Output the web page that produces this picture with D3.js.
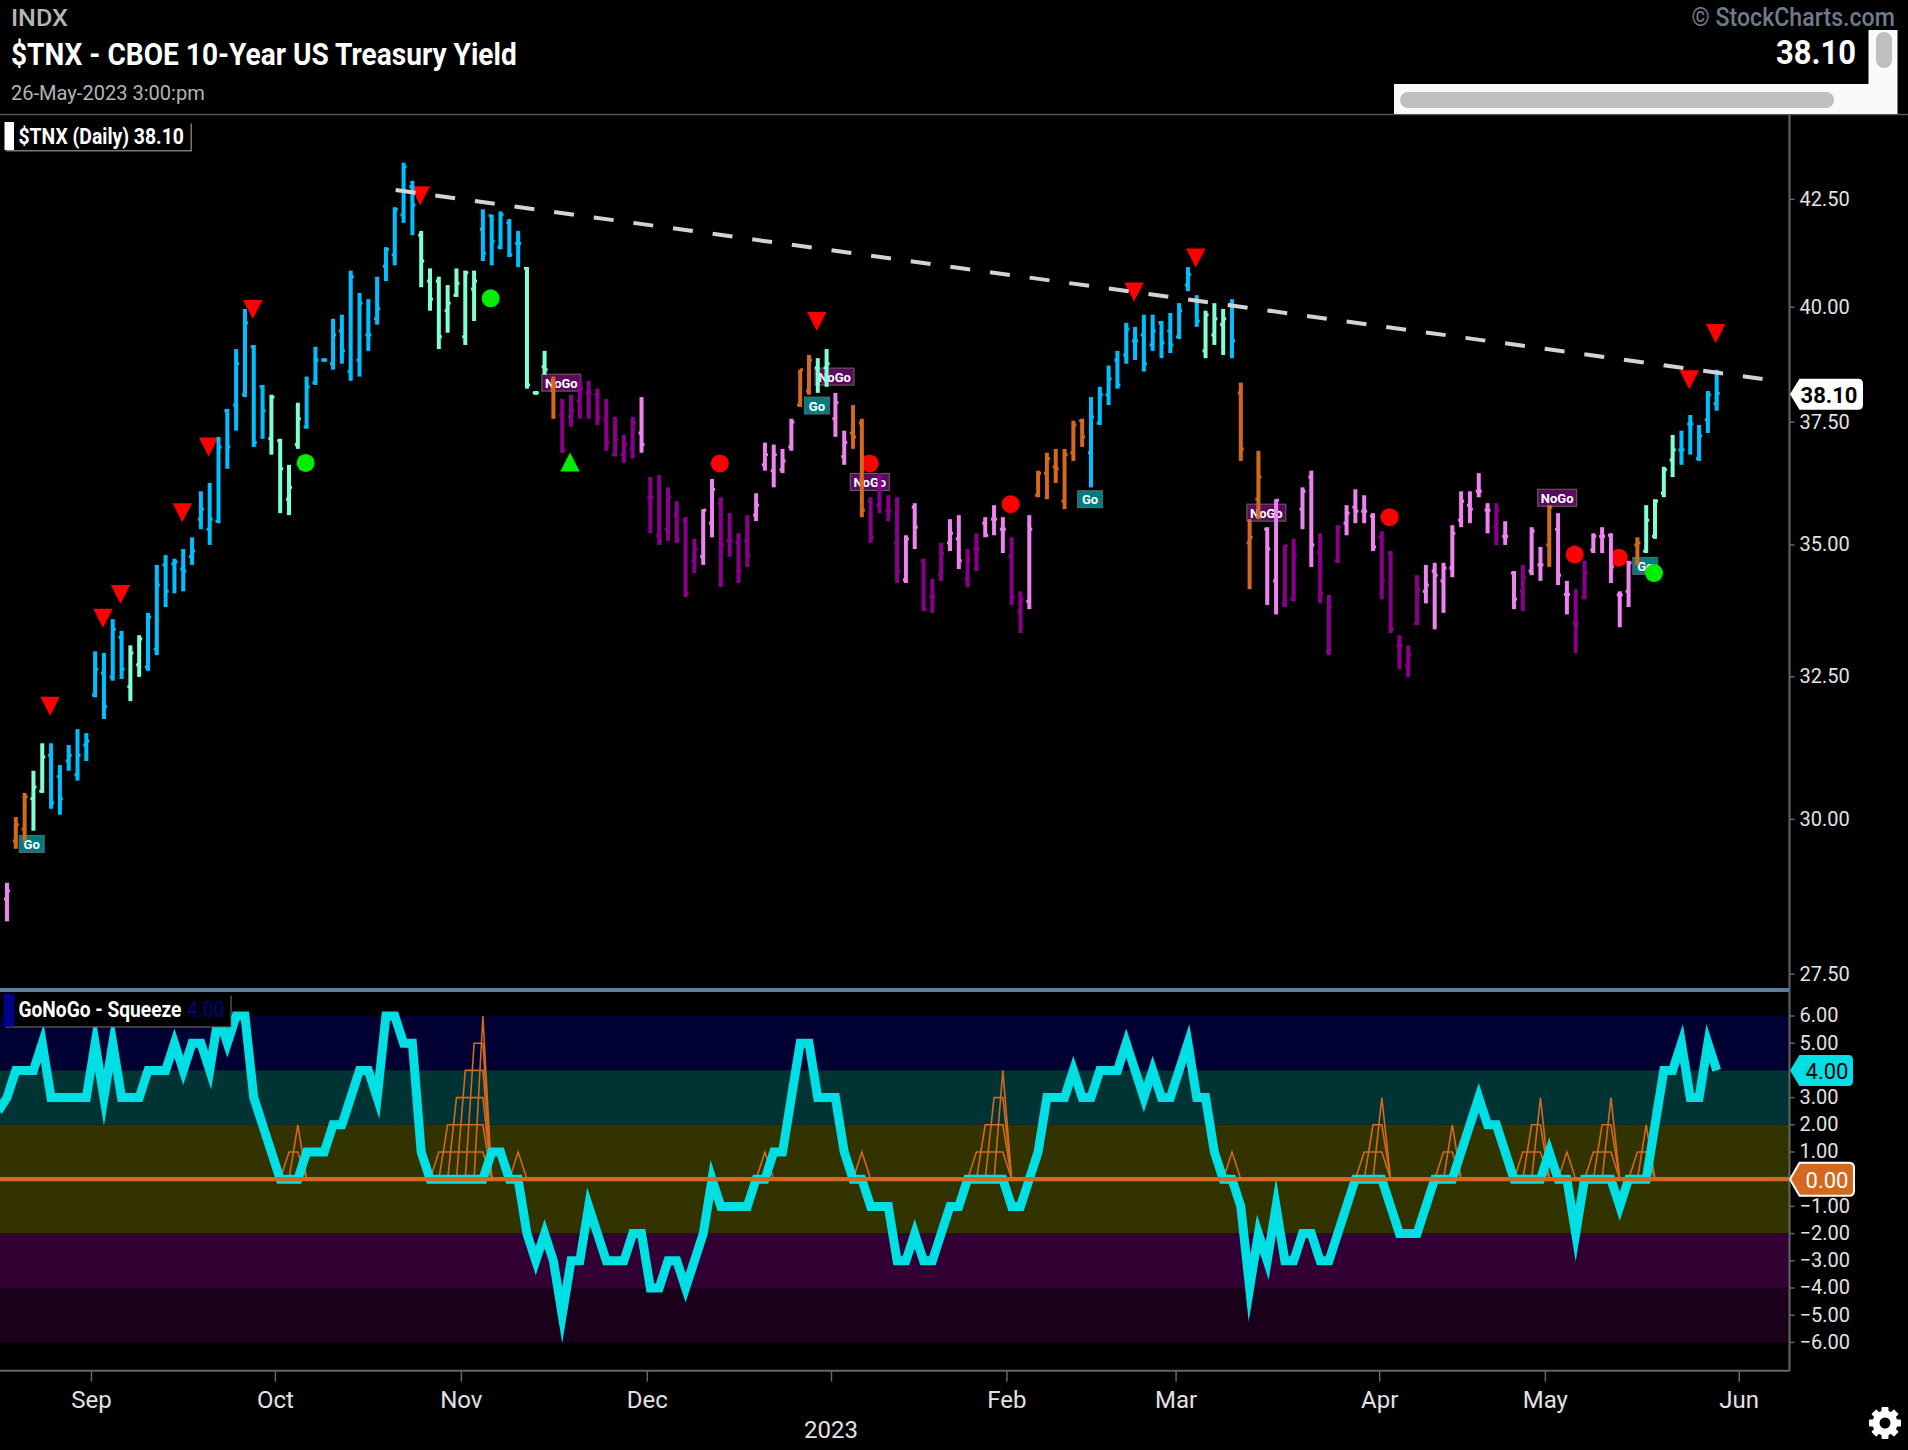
<!DOCTYPE html>
<html><head><meta charset="utf-8">
<script src="https://cdn.jsdelivr.net/npm/d3@7"></script>
<style>html,body{margin:0;padding:0;background:#000}svg{display:block}text{font-family:Roboto,sans-serif}</style>
</head><body><svg id="c" width="1908" height="1450"></svg>
<script>
const highs=[28.94,30.03,30.44,30.82,31.30,31.30,30.92,31.27,31.55,31.48,
32.96,32.93,33.56,33.34,33.07,33.26,33.68,34.60,34.79,34.72,
34.91,35.14,36.06,36.23,37.18,37.77,39.06,39.95,39.15,38.28,
38.07,37.14,36.60,37.90,38.46,39.11,38.86,39.73,39.82,40.82,
40.31,40.17,40.68,41.36,42.30,43.37,42.93,41.74,40.87,40.68,
40.49,40.87,40.82,40.82,42.25,42.12,42.20,42.02,41.74,40.90,
38.15,39.02,38.46,37.98,38.07,38.37,38.37,38.20,37.98,37.60,
37.22,37.60,38.02,36.35,36.39,36.14,35.86,35.54,35.11,35.70,
36.31,35.94,35.62,35.22,35.58,36.02,37.06,37.02,36.93,37.56,
38.61,38.93,38.86,39.06,38.11,37.31,37.85,37.56,35.94,36.43,
35.98,35.94,35.18,35.82,34.72,34.33,35.03,35.50,35.58,34.91,
35.22,35.54,35.78,35.54,35.14,34.09,35.58,36.48,36.85,36.93,
36.93,37.52,37.56,38.02,38.24,38.70,39.02,39.64,39.55,39.82,
39.82,39.68,39.86,40.08,40.90,40.26,39.91,40.08,39.95,40.17,
38.33,35.50,36.89,35.34,35.90,34.99,35.11,36.14,36.48,35.22,
34.02,35.38,35.78,36.10,35.98,35.62,35.26,34.87,33.26,33.07,
34.40,34.60,34.64,34.64,35.38,36.06,36.06,36.43,35.82,35.82,
35.46,34.48,34.60,35.34,34.95,35.78,35.62,34.29,34.13,34.68,
35.22,35.34,35.22,34.09,34.68,35.14,35.78,35.90,36.56,37.22,
37.31,37.64,37.43,38.15,38.61];
const lows=[28.32,29.50,29.63,29.80,30.44,30.17,30.07,30.82,30.65,30.99,
32.12,31.73,32.42,32.45,32.05,32.49,32.60,32.89,33.79,34.05,
34.09,34.60,35.30,34.99,35.42,36.52,37.31,38.02,36.97,37.14,
36.81,35.62,35.58,36.93,37.35,38.28,38.78,38.61,38.74,38.37,
38.46,39.02,39.60,40.58,40.94,41.93,41.64,40.44,39.91,39.06,
39.42,40.22,39.15,39.68,41.04,40.94,41.31,41.13,40.90,38.20,
38.07,38.50,37.56,36.85,37.39,37.56,37.56,37.43,36.89,36.77,
36.64,36.73,36.85,35.22,34.99,35.07,35.03,33.98,34.44,34.60,
35.14,34.17,34.76,34.25,34.56,35.46,36.48,36.14,36.43,36.89,
37.81,38.07,38.11,38.24,37.18,36.60,36.93,35.54,35.03,35.62,
35.46,34.25,34.25,34.91,33.71,33.68,34.29,34.87,34.52,34.17,
34.48,35.14,35.18,34.83,33.83,33.30,33.75,35.94,35.90,36.23,
35.70,36.68,36.97,36.14,37.43,37.85,38.20,38.74,38.82,38.57,
39.02,38.86,38.97,39.28,40.35,39.55,38.86,39.15,38.93,38.86,
36.68,34.13,35.50,33.83,33.65,33.79,33.90,35.30,34.56,33.86,
32.89,34.64,35.18,35.42,35.42,34.87,33.94,33.30,32.63,32.49,
33.45,33.86,33.37,33.68,34.36,35.34,35.42,35.94,35.22,34.99,
34.99,33.75,33.71,34.40,34.29,34.56,34.21,33.65,32.93,33.94,
34.83,34.83,34.25,33.41,33.79,34.60,34.83,35.11,35.94,36.35,
36.60,36.81,36.68,37.26,37.73];
const opens=[28.68,29.63,29.83,30.34,30.47,31.09,30.72,30.99,30.75,31.27,
32.16,32.56,32.49,33.22,32.31,32.71,32.67,33.00,34.60,34.62,
34.52,34.76,35.50,35.30,35.46,37.73,37.85,38.07,39.11,38.24,
37.14,37.10,35.90,37.02,37.39,38.33,38.82,38.74,39.46,38.57,
38.82,39.37,39.73,40.92,41.18,42.12,42.79,41.64,40.58,40.58,
39.91,40.26,39.33,40.40,41.78,42.10,41.36,41.93,41.45,40.87,
38.11,38.67,38.17,37.64,37.60,37.94,38.11,38.07,37.56,36.81,
36.81,36.93,37.26,35.94,35.18,35.30,35.58,35.48,34.68,34.76,
35.42,35.82,35.07,35.03,35.07,35.58,36.60,36.48,36.50,36.97,
37.85,38.15,38.65,38.65,37.56,36.77,37.26,37.47,35.86,35.78,
35.68,35.03,34.31,35.74,34.68,33.98,34.40,35.03,35.11,34.33,
34.91,35.42,35.50,35.30,34.76,33.71,33.90,35.98,36.43,36.56,
35.86,36.85,37.52,36.85,37.47,38.07,38.82,38.93,39.24,39.37,
39.15,39.64,39.46,39.33,40.49,40.15,39.02,39.37,39.60,40.04,
38.11,35.03,35.90,35.30,34.29,33.86,33.94,35.70,36.35,34.83,
32.96,34.68,35.42,35.74,35.66,35.56,35.14,34.83,33.07,32.69,
33.48,34.09,34.48,34.29,34.54,35.48,35.78,36.06,35.68,35.34,
35.16,34.44,34.09,34.48,34.60,34.99,35.30,34.03,33.48,33.98,
34.89,35.16,35.18,34.02,34.09,34.99,34.87,35.16,36.02,36.70,
36.91,37.45,36.73,37.54,37.88];
const closes=[28.81,29.90,30.37,30.54,31.06,30.27,30.34,31.09,31.09,31.34,
32.63,31.95,33.37,32.63,32.93,33.19,33.60,34.21,34.09,34.66,
34.48,34.87,35.70,35.50,36.97,36.97,38.74,39.64,37.06,37.73,
38.02,36.52,36.14,37.56,38.24,38.82,38.82,39.37,39.02,40.68,
40.08,39.37,39.95,41.31,42.25,43.27,42.35,41.04,40.17,39.33,
40.08,40.53,40.77,40.58,41.22,41.50,42.12,41.18,41.45,38.28,
38.11,38.61,38.28,36.89,37.73,38.20,38.11,37.60,37.06,37.14,
37.02,37.47,37.02,35.94,35.07,35.94,35.09,34.05,34.91,35.68,
36.10,34.99,35.07,34.48,34.79,35.78,36.81,36.81,36.68,37.49,
38.61,38.82,38.46,38.74,37.90,37.06,37.18,35.68,35.14,36.23,
35.66,34.48,35.11,35.34,33.75,33.98,34.83,35.22,34.68,34.70,
34.91,35.18,35.50,35.30,33.98,33.94,35.30,36.43,36.73,36.52,
36.81,37.43,37.18,37.60,38.07,38.41,38.28,39.50,39.24,38.74,
39.46,39.20,39.15,39.91,40.73,39.68,39.82,39.73,39.73,39.24,
36.93,35.14,36.35,34.91,35.88,34.97,34.79,36.06,34.99,34.05,
33.79,35.34,35.62,35.66,35.66,34.95,34.29,33.37,33.07,32.89,
34.13,34.21,34.40,34.54,35.22,35.86,35.70,36.06,35.68,35.68,
35.16,33.94,34.36,35.26,34.60,35.74,34.40,34.03,33.48,34.44,
35.16,35.16,34.56,34.02,34.64,35.03,35.48,35.86,36.50,36.91,
36.91,37.45,37.20,38.07,38.10];
// one state per bar: b strong go, a weak go, p weak nogo, m strong nogo, o neutral
const barStates=("poo"+"aa"+"bbbbbbbbb"+"aa"+"bbbbbbbbbbbbbb"+"aaaa"+"bbbbbbbbbbbbb"+"aaaaaaa"+"bbbbb"+"aaa"+"o"+"mmmmmmmmm"+"p"+"mmmmmm"+"pp"+"mmmm"+"ppppp"+"oo"+"aa"+"pp"+"oo"+"mmmm"+"pp"+"mmm"+"pp"+"mm"+"ppp"+"mm"+"p"+"oooooo"+"bbbbbbbbbbbbb"+"aaa"+"b"+"ooo"+"pp"+"mm"+"pp"+"mmm"+"pppp"+"mmmmm"+"pppppppp"+"m"+"pp"+"m"+"pp"+"o"+"pp"+"mm"+"ppppp"+"o"+"aaaa"+"bbbbb").split("");
const stateColors={b:"#00bfff",a:"#7fffd4",p:"#ee82ee",m:"#8b008b",o:"#d2691e"};
const oscLead=2.5;
const oscValues=[3,4,4,4,5,3,3,3,3,3,
5,3,5,3,3,3,4,4,4,5,
4,5,5,4,6,5,6,6,3,2,
1,0,0,0,1,1,1,2,2,3,
4,4,3,6,6,5,5,1,0,0,
0,0,0,0,0,1,1,0,0,-2,
-3,-2,-3,-5,-3,-3,-1,-2,-3,-3,
-3,-2,-2,-4,-4,-3,-3,-4,-3,-2,
0,-1,-1,-1,-1,0,0,1,1,3,
5,5,3,3,3,1,0,0,-1,-1,
-1,-3,-3,-2,-3,-3,-2,-1,-1,0,
0,0,0,0,-1,-1,0,1,3,3,
3,4,3,3,4,4,4,5,4,3,
4,3,3,4,5,3,3,1,0,0,
-1,-4,-2,-3,-1,-3,-3,-2,-2,-3,
-3,-2,-1,0,0,0,0,-1,-2,-2,
-2,-1,0,0,0,1,2,3,2,2,
1,0,0,0,0,1,0,0,-2,0,
0,0,0,-1,0,0,0,2,4,4,
5,3,3,5,4];
const squeezeRuns=[[32,2],[49,6],[58,1],[86,1],[97,1],[110,4],[139,1],[154,3],[163,2],[172,3],[177,1],[180,3],[185,2]];
const priceTicks=[42.5,40,37.5,35,32.5,30,27.5];
const oscTicks=[6,5,3,2,1,-1,-2,-3,-4,-5,-6];
const monthPos=[9.53,30.4,51.5,72.6,93.5,113.4,132.6,155.7,174.5,196.5];
const monthLabels=["Sep","Oct","Nov","Dec","","Feb","Mar","Apr","May","Jun"];
const bands=[[6,4,"#000033"],[4,2,"#003333"],[2,-2,"#333300"],[-2,-4,"#330033"],[-4,-6,"#1a001a"]];
const trendIdx=[44.1,199.2], trendPrice=[42.71,38.41];
const sellTri=[[5,31.96],[11,33.58],[13,34.03],[20,35.63],[23,36.97],[28,39.94],[47,42.57],[92,39.67],[128,40.33],[135,41.11],[191,38.39],[194,39.40]];
const buyTri=[[64,36.66]];
const greenDots=[[34,36.64],[55,40.19],[187,34.44]];
const redDots=[[81,36.63],[98,36.63],[114,35.80],[157,35.54],[178,34.80],[183,34.74]];
const goFlags=[[2.8,29.58],[91.9,37.84],[122.9,35.90],[185.9,34.58]];
const noGoFlags=[[62.9,38.33],[93.9,38.46],[97.9,36.25],[142.9,35.63],[175.9,35.93]];

const W=1908,H=1450,axisX=1789.5;
const svg=d3.select("#c");
const x=d3.scaleLinear().domain([0,194]).range([7,1716.7]);
const y=d3.scaleLog().domain([42.5,27.5]).range([198.8,973.7]);
const yo=d3.scaleLinear().domain([6,-6]).range([1016,1342.4]);
const lbl="#e2e2e2";

// oscillator panel
svg.append("g").selectAll("rect").data(bands).join("rect")
 .attr("x",0).attr("width",axisX).attr("y",d=>yo(d[0])).attr("height",d=>yo(d[1])-yo(d[0])).attr("fill",d=>d[2]);
const sq=new Array(oscValues.length).fill(0);
squeezeRuns.forEach(([s,n])=>{for(let k=0;k<n;k++)sq[s+k]=k+1;});
const sqLine=d3.line().x((d,i)=>x(i)).y(d=>yo(d));
d3.range(1,7).forEach(k=>{
 svg.append("path").attr("d",sqLine(sq.map(v=>v>=k?k:0))).attr("fill","none").attr("stroke","#d2691e").attr("stroke-width",1.6);
});
const oscAll=[oscLead].concat(oscValues);
svg.append("path").attr("d",d3.line().x((d,i)=>x(i-1)).y(d=>yo(d))(oscAll))
 .attr("fill","none").attr("stroke","#00dfe3").attr("stroke-width",9).attr("stroke-linejoin","miter").attr("stroke-miterlimit",12);
svg.append("line").attr("x1",0).attr("x2",axisX).attr("y1",yo(0)).attr("y2",yo(0)).attr("stroke","#d2691e").attr("stroke-width",4.2);
svg.append("rect").attr("x",0).attr("y",988).attr("width",axisX).attr("height",4).attr("fill","#5b7d9e");

// flags and markers
function flags(data,txt,fill,w){
 const g=svg.append("g").selectAll("g").data(data).join("g").attr("transform",d=>`translate(${x(d[0])},${y(d[1])})`);
 g.append("rect").attr("x",-w/2).attr("y",-8.5).attr("width",w).attr("height",17).attr("fill",fill).attr("stroke","#666").attr("stroke-width",1);
 g.append("text").attr("text-anchor","middle").attr("y",5).attr("font-size",13).attr("font-weight",700).attr("fill","#fff").text(txt);
}
flags(goFlags,"Go","#007c80",25);
flags(noGoFlags,"NoGo","#5c0a5c",39);
const off=-1;
svg.append("g").selectAll("path").data(sellTri).join("path").attr("d","M-9.75,-9.5L9.75,-9.5L0,9.5Z").attr("fill","#ff0000").attr("transform",d=>`translate(${x(d[0])+off},${y(d[1])})`);
svg.append("g").selectAll("path").data(buyTri).join("path").attr("d","M-9.75,9.5L9.75,9.5L0,-9.5Z").attr("fill","#00ee00").attr("transform",d=>`translate(${x(d[0])+off},${y(d[1])})`);
svg.append("g").selectAll("circle").data(greenDots).join("circle").attr("r",9).attr("fill","#00ee00").attr("cx",d=>x(d[0])+off).attr("cy",d=>y(d[1]));
svg.append("g").selectAll("circle").data(redDots).join("circle").attr("r",9).attr("fill","#ff0000").attr("cx",d=>x(d[0])+off).attr("cy",d=>y(d[1]));

// OHLC bars
const bars=svg.append("g").selectAll("g").data(highs.map((h,i)=>i)).join("g").attr("fill",i=>stateColors[barStates[i]]);
bars.append("rect").attr("x",i=>x(i)-3).attr("width",3).attr("y",i=>y(opens[i])-1.5).attr("height",3);
bars.append("rect").attr("x",i=>x(i)).attr("width",3).attr("y",i=>y(closes[i])-1.5).attr("height",3);
bars.append("rect").attr("x",i=>x(i)-2).attr("width",4).attr("y",i=>y(highs[i])).attr("height",i=>Math.max(1,y(lows[i])-y(highs[i])));

// trendline
svg.append("line").attr("x1",x(trendIdx[0])).attr("y1",y(trendPrice[0])).attr("x2",x(trendIdx[1])).attr("y2",y(trendPrice[1]))
 .attr("stroke","#d3d3d3").attr("stroke-width",4).attr("stroke-dasharray","20 20");

// axes
function styleAxis(g){g.select(".domain").remove();g.selectAll("line").attr("stroke","#666").attr("stroke-width",1.5);g.selectAll("text").attr("fill",lbl).attr("font-size",20).attr("font-family","Roboto");}
svg.append("g").attr("transform",`translate(${axisX},0)`).call(d3.axisRight(y).tickValues(priceTicks).tickFormat(d3.format(".2f")).tickSize(5).tickPadding(5)).call(styleAxis);
svg.append("g").attr("transform",`translate(${axisX},-0.5)`).call(d3.axisRight(yo).tickValues(oscTicks).tickFormat(d3.format(".2f")).tickSize(5).tickPadding(5)).call(styleAxis);
svg.append("g").attr("transform","translate(0,1370.7)").call(d3.axisBottom(x).tickValues(monthPos).tickFormat((d,i)=>monthLabels[i]).tickSize(11).tickPadding(9)).call(styleAxis).selectAll("text").attr("font-size",24);
svg.append("line").attr("x1",axisX).attr("x2",axisX).attr("y1",115).attr("y2",1371).attr("stroke","#666").attr("stroke-width",2);
svg.append("line").attr("x1",0).attr("x2",axisX).attr("y1",1370.7).attr("y2",1370.7).attr("stroke","#666").attr("stroke-width",2);
svg.append("line").attr("x1",0).attr("x2",W).attr("y1",114.5).attr("y2",114.5).attr("stroke","#555").attr("stroke-width",1.5);
svg.append("text").attr("x",x(93.5)).attr("y",1438).attr("text-anchor","middle").attr("font-size",24).attr("fill",lbl).text("2023");

// value tags
function tag(yc,x1,h,fill,stroke,txt,tc,weight,tx){
 svg.append("path").attr("d",`M${axisX+0.5},${yc}L${axisX+10},${yc-h/2}H${x1-5}Q${x1},${yc-h/2} ${x1},${yc-h/2+5}V${yc+h/2-5}Q${x1},${yc+h/2} ${x1-5},${yc+h/2}H${axisX+10}Z`)
 .attr("fill",fill).attr("stroke",stroke).attr("stroke-width",stroke==="none"?0:2);
 svg.append("text").attr("x",tx).attr("y",yc+8.5).attr("text-anchor","middle").attr("font-size",22).attr("font-weight",weight).attr("fill",tc).text(txt);
}
tag(y(38.10)+1,1863,31,"#fff","none","38.10","#000",700,1829);
tag(yo(4),1853,31,"#00dfe3","none","4.00","#000",400,1827);
tag(yo(0),1854,33,"#d2691e","#fff","0.00","#fff",400,1827);

// header: text fitted to a width by horizontal scaling, so its box stays true
const head=(tx,ty,fs,fw,col,txt,len)=>{
 const t=svg.append("text").attr("font-size",fs).attr("font-weight",fw).attr("fill",col).text(txt);
 const n=t.node().getComputedTextLength();
 t.attr("transform",`translate(${tx},${ty}) scale(${len/n},1)`);
 return t;
};
head(11,26,24,500,"#b4b4b4","INDX",57);
head(11,65,32,700,"#fff","$TNX - CBOE 10-Year US Treasury Yield",506);
head(11,100,20,400,"#b4b4b4","26-May-2023 3:00:pm",194);
head(1691.5,26,25,500,"#6e7b8b","© StockCharts.com",203.5);
head(1776,64,34,700,"#fff","38.10",80);

// scrollbar stubs
svg.append("rect").attr("x",1394).attr("y",84).attr("width",503.5).attr("height",30).attr("fill","#fafafa");
svg.append("rect").attr("x",1868.5).attr("y",30).attr("width",29).attr("height",54).attr("fill","#fafafa");
svg.append("rect").attr("x",1400).attr("y",92).attr("width",434).attr("height",16).attr("rx",8).attr("fill","#bfbfbf");
svg.append("rect").attr("x",1876).attr("y",32).attr("width",16).attr("height",36).attr("rx",8).attr("fill","#bfbfbf");

// legends
svg.append("rect").attr("x",6).attr("y",123.5).attr("width",186).attr("height",28).attr("fill","#777");
svg.append("rect").attr("x",4.5).attr("y",122).attr("width",186).attr("height",28).attr("fill","#000");
svg.append("rect").attr("x",4.5).attr("y",122).attr("width",9.5).attr("height",28).attr("fill","#fff");
head(18.5,144,22,700,"#fff","$TNX (Daily) 38.10",165.5);
svg.append("rect").attr("x",5.5).attr("y",995.5).attr("width",226).attr("height",32).attr("fill","#777");
svg.append("rect").attr("x",4).attr("y",994).attr("width",226.5).attr("height",32.5).attr("fill","#000");
svg.append("rect").attr("x",4).attr("y",994).attr("width",10).attr("height",32.5).attr("fill","#00008b");
head(18.5,1017,22,700,"#fff","GoNoGo - Squeeze",163);
head(187,1017,22,400,"#00008b","4.00",37.5);

// gear
const gear=svg.append("g").attr("transform","translate(1885,1423)");
d3.range(4).forEach(k=>gear.append("rect").attr("x",-3.5).attr("y",-16).attr("width",7).attr("height",32).attr("rx",1).attr("fill","#fff").attr("transform",`rotate(${k*45})`));
gear.append("circle").attr("r",12.5).attr("fill","#fff");
gear.append("circle").attr("r",5.5).attr("fill","#000");
</script></body></html>
